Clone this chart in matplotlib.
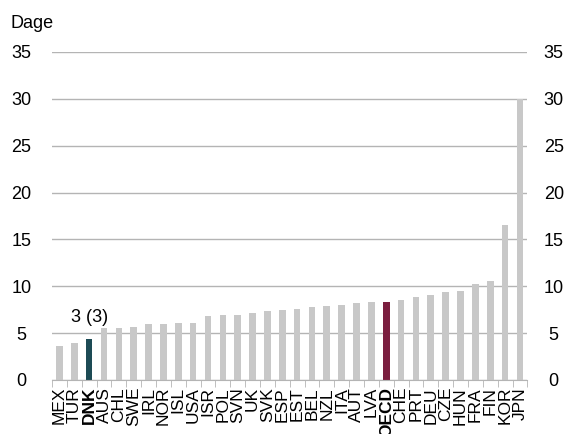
import matplotlib.pyplot as plt
import numpy as np

plt.rcParams["font.family"] = ["Liberation Sans", "DejaVu Sans"]

countries = ["MEX", "TUR", "DNK", "AUS", "CHL", "SWE", "IRL", "NOR", "ISL", "USA",
             "ISR", "POL", "SVN", "UK", "SVK", "ESP", "EST", "BEL", "NZL", "ITA",
             "AUT", "LVA", "OECD", "CHE", "PRT", "DEU", "CZE", "HUN", "FRA", "FIN",
             "KOR", "JPN"]
days = [3.6, 4.0, 4.4, 5.5, 5.6, 5.7, 6.0, 6.0, 6.1, 6.1,
        6.8, 6.9, 6.9, 7.1, 7.35, 7.45, 7.6, 7.8, 7.9, 8.0,
        8.2, 8.35, 8.35, 8.5, 8.9, 9.05, 9.4, 9.5, 10.2, 10.6,
        16.5, 30.0]
rank_label = "3 (3)"

grey = "#c8c8c8"
dnk_col = "#1d4b55"
oecd_col = "#7b1e3f"
colors = [dnk_col if c == "DNK" else oecd_col if c == "OECD" else grey for c in countries]

fig = plt.figure(figsize=(5.72, 4.34), dpi=100)
ax = fig.add_axes([52 / 572, 1 - 380 / 434, (527.4 - 52) / 572, (380 - 52) / 434])

x = np.arange(len(countries))
ax.bar(x, days, width=0.45, color=colors, zorder=3)

ax.set_xlim(-0.5, len(countries) - 0.5)
ax.set_ylim(0, 35)
ax.set_yticks(np.arange(0, 36, 5))
ax.grid(axis="y", color="#b4b4b4", lw=1.0, zorder=0)
for s in ["top", "left", "right"]:
    ax.spines[s].set_visible(False)
ax.spines["bottom"].set_color("#b4b4b4")
ax.spines["bottom"].set_zorder(4)

# left y labels, centred
ax.tick_params(axis="y", length=0, labelsize=13, pad=22)
for lab in ax.get_yticklabels():
    lab.set_horizontalalignment("center")

# right y labels via twin axis
ax2 = ax.twinx()
ax2.set_ylim(ax.get_ylim())
ax2.set_yticks(np.arange(0, 36, 5))
ax2.tick_params(axis="y", length=0, labelsize=13, pad=19)
for lab in ax2.get_yticklabels():
    lab.set_horizontalalignment("center")
for s in ax2.spines.values():
    s.set_visible(False)

ax.set_xticks(x)
ax.set_xticklabels(countries, rotation=90, fontsize=12.5)
ax.tick_params(axis="x", length=0, pad=5)
for lab in ax.get_xticklabels():
    if lab.get_text() in ("DNK", "OECD"):
        lab.set_fontweight("bold")
ax.set_xticks(np.arange(-0.5, len(countries), 1), minor=True)
ax.tick_params(axis="x", which="minor", length=5, color="#b4b4b4")

i_dnk = countries.index("DNK")
ax.text(x[i_dnk], days[i_dnk] + 1.8, rank_label, ha="center", va="baseline", fontsize=13)

fig.text(10 / 572, 1 - 28 / 434, "Dage", fontsize=13, va="baseline", ha="left")

fig.savefig("out.png", dpi=100)
